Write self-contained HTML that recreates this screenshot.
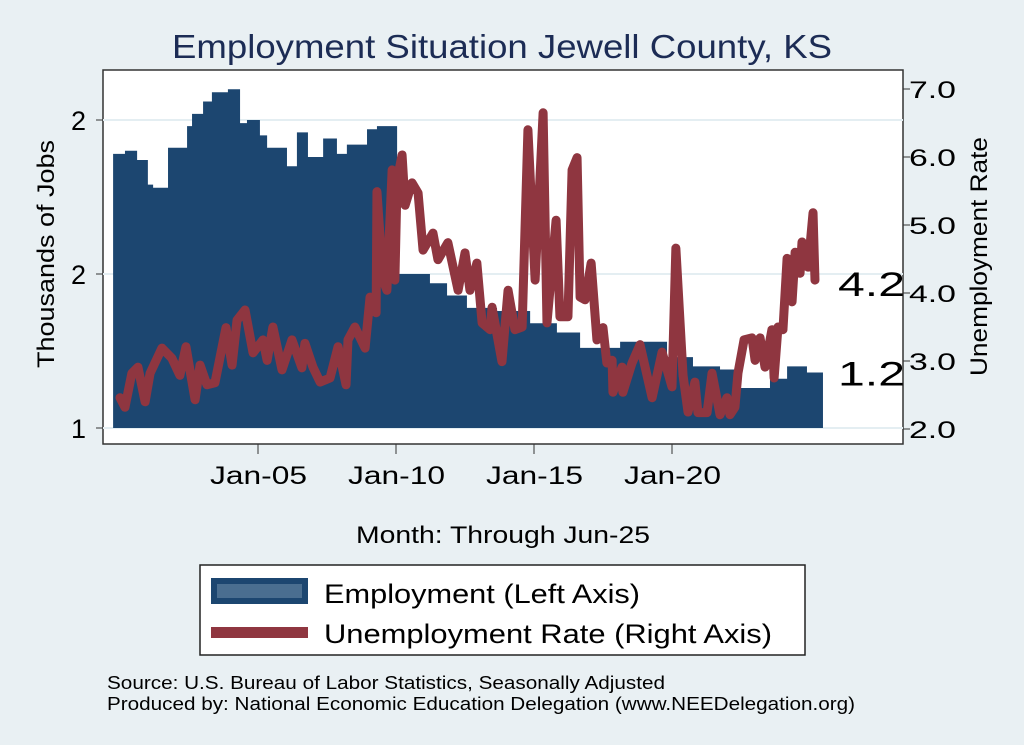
<!DOCTYPE html>
<html><head><meta charset="utf-8"><style>
body{margin:0;background:#e9f0f3;}
svg{display:block;font-family:"Liberation Sans",sans-serif;}
</style></head><body>
<svg id="c" width="1024" height="745" viewBox="0 0 1024 745">
<rect width="1024" height="745" fill="#e9f0f3"/>
<text x="172" y="58" font-size="33" fill="#1c2c55" textLength="660" lengthAdjust="spacingAndGlyphs">Employment Situation Jewell  County, KS</text>
<rect x="103" y="70" width="800" height="374" fill="#fff" stroke="#333" stroke-width="1.5"/>
<g id="grid"></g>
<g id="bars"></g>
<g id="line"></g>
<g id="axes"></g>
<text x="54" y="368" font-size="24" textLength="228" lengthAdjust="spacingAndGlyphs" transform="rotate(-90 54 368)">Thousands of Jobs</text>
<text x="987" y="376" font-size="24" textLength="239" lengthAdjust="spacingAndGlyphs" transform="rotate(-90 987 376)">Unemployment Rate</text>
<text x="356" y="543" font-size="24" textLength="294" lengthAdjust="spacingAndGlyphs">Month: Through Jun-25</text>
<g>
<rect x="200" y="565" width="605" height="90" fill="#fff" stroke="#222" stroke-width="1.5"/>
<rect x="211" y="578" width="97" height="26" fill="#1c4670"/>
<rect x="217" y="584" width="85" height="14" fill="#4a6e90"/>
<text x="324" y="603" font-size="27" textLength="316" lengthAdjust="spacingAndGlyphs">Employment (Left Axis)</text>
<rect x="211" y="627" width="97" height="11" fill="#8f3640"/>
<text x="324" y="643" font-size="27" textLength="448" lengthAdjust="spacingAndGlyphs">Unemployment Rate (Right Axis)</text>
</g>
<text x="107" y="689" font-size="18" textLength="558" lengthAdjust="spacingAndGlyphs">Source: U.S. Bureau of Labor Statistics, Seasonally Adjusted</text>
<text x="107" y="710" font-size="18" textLength="748" lengthAdjust="spacingAndGlyphs">Produced by: National Economic Education Delegation (www.NEEDelegation.org)</text>
</svg>
<script>
const empDates=[1999.75,2000.18,2000.62,2001.01,2001.20,2001.74,2002.43,2002.61,2003.01,2003.33,2003.91,2004.35,2004.60,2005.07,2005.33,2006.05,2006.41,2006.81,2007.36,2007.86,2008.22,2008.95,2009.31,2009.78,2010.04,2011.23,2011.85,2012.43,2012.57,2013.66,2014.86,2015.83,2016.67,2018.12,2019.82,2020.76,2021.74,2022.46,2023.55,2024.17,2024.89];
const empEnd=2025.47;
const empValues=[1.89,1.90,1.87,1.79,1.78,1.91,1.98,2.02,2.06,2.09,2.10,1.99,2.0,1.95,1.91,1.85,1.96,1.88,1.94,1.89,1.92,1.97,1.98,1.98,1.50,1.47,1.43,1.43,1.39,1.38,1.34,1.31,1.26,1.28,1.23,1.20,1.19,1.13,1.16,1.20,1.18];
const urDates=[2000.0,2000.18,2000.43,2000.65,2000.91,2001.09,2001.52,2001.88,2002.17,2002.39,2002.72,2002.90,2003.15,2003.44,2003.84,2004.06,2004.24,2004.53,2004.82,2005.18,2005.33,2005.54,2005.87,2006.23,2006.59,2006.70,2006.99,2007.25,2007.61,2007.90,2008.19,2008.26,2008.51,2008.88,2009.06,2009.28,2009.31,2009.53,2009.67,2009.86,2009.96,2010.04,2010.22,2010.33,2010.58,2010.80,2010.98,2011.34,2011.52,2011.88,2012.25,2012.50,2012.68,2012.93,2013.12,2013.41,2013.48,2013.84,2014.06,2014.31,2014.57,2014.78,2015.04,2015.33,2015.47,2015.80,2015.94,2016.23,2016.38,2016.56,2016.67,2016.85,2017.07,2017.28,2017.50,2017.64,2017.83,2017.86,2018.19,2018.22,2018.55,2018.84,2019.28,2019.64,2020.0,2020.14,2020.40,2020.58,2020.83,2020.94,2021.27,2021.45,2021.74,2021.99,2022.10,2022.28,2022.39,2022.61,2022.90,2023.01,2023.19,2023.37,2023.62,2023.70,2023.84,2024.02,2024.17,2024.35,2024.46,2024.64,2024.71,2024.93,2025.11,2025.18];
const urValues=[2.46,2.32,2.82,2.91,2.40,2.82,3.19,3.04,2.79,3.21,2.43,2.94,2.65,2.68,3.49,2.94,3.60,3.75,3.12,3.31,3.01,3.50,2.87,3.31,2.90,3.26,2.91,2.69,2.75,3.21,2.65,3.31,3.50,3.19,3.94,3.71,5.49,4.19,4.04,5.81,4.19,5.66,6.03,5.29,5.62,5.47,4.63,4.88,4.49,4.74,4.04,4.59,4.04,4.44,3.56,3.46,3.79,2.99,4.04,3.46,3.50,6.40,4.19,6.65,3.56,5.07,3.65,3.65,5.81,5.99,3.94,3.90,4.44,3.31,3.49,2.97,3.01,2.54,2.91,2.54,2.97,3.24,2.46,3.13,2.62,4.66,2.79,2.25,2.69,2.24,2.24,2.82,2.21,2.46,2.21,2.32,2.82,3.31,3.34,3.01,3.34,2.91,3.46,2.75,3.50,3.46,4.51,3.87,4.60,4.29,4.75,4.38,5.18,4.19];
const leftTicks=[1,1.5,2];
const leftTickLabels=["1","2","2"];
const rightTicks=[2,3,4,5,6,7];
const rightTickLabels=["2.0","3.0","4.0","5.0","6.0","7.0"];
const xTicks=[2005,2010,2015,2020];
const xTickLabels=["Jan-05","Jan-10","Jan-15","Jan-20"];
const endLabels=["4.2","1.2"];

const NS="http://www.w3.org/2000/svg";
const xS=t=>120+(t-2000)*27.6;
const yL=v=>428-(v-1)*308;
const yR=u=>429-(u-2)*68;
function mk(tag,attrs,parent){const e=document.createElementNS(NS,tag);for(const k in attrs)e.setAttribute(k,attrs[k]);document.getElementById(parent).appendChild(e);return e;}

leftTicks.forEach((v,i)=>{
  const g=mk('line',{x1:103,x2:903,y1:yL(v),y2:yL(v),stroke:'#e4eef2','stroke-width':2},'grid');
  
  
  const t=mk('line',{x1:96,x2:103,y1:yL(v),y2:yL(v),stroke:'#333'},'axes');
  
  
  const l=mk('text',{x:86,y:yL(v)+10,'font-size':27,'text-anchor':'end'},'axes');
  l.textContent=leftTickLabels[i];
  
  
});
rightTicks.forEach((u,i)=>{
  const t=mk('line',{x1:903,x2:910,y1:yR(u),y2:yR(u),stroke:'#333'},'axes');
  
  
  const l=mk('text',{x:909,y:yR(u)+9,'font-size':24,textLength:47,lengthAdjust:'spacingAndGlyphs'},'axes');
  l.textContent=rightTickLabels[i];
  
  
});
xTicks.forEach((t0,i)=>{
  const t=mk('line',{x1:xS(t0),x2:xS(t0),y1:444,y2:454,stroke:'#333'},'axes');
  
  
  const l=mk('text',{x:xS(t0)-48,y:484,'font-size':25,textLength:97,lengthAdjust:'spacingAndGlyphs'},'axes');
  l.textContent=xTickLabels[i];
  
  
});
let d='M'+xS(empDates[0])+','+yL(1);
empValues.forEach((v,i)=>{const x0=xS(empDates[i]);const x1=xS(i+1<empDates.length?empDates[i+1]:empEnd);d+=' L'+x0+','+yL(v)+' L'+x1+','+yL(v);});
d+=' L'+xS(empEnd)+','+yL(1)+' Z';
const area=mk('path',{d:d,fill:'#1c4670'},'bars');


const pts=urValues.map((u,i)=>xS(urDates[i])+','+yR(u)).join(' ');
const pl=mk('polyline',{points:pts,fill:'none',stroke:'#8f3640','stroke-width':9,'stroke-linejoin':'round','stroke-linecap':'round'},'line');


const e1=mk('text',{x:838,y:yR(urValues[urValues.length-1])+16,'font-size':34,textLength:67,lengthAdjust:'spacingAndGlyphs'},'axes');
e1.textContent=endLabels[0];


const e2=mk('text',{x:838,y:yL(empValues[empValues.length-1])+13,'font-size':34,textLength:67,lengthAdjust:'spacingAndGlyphs'},'axes');
e2.textContent=endLabels[1];


</script>
</body></html>
